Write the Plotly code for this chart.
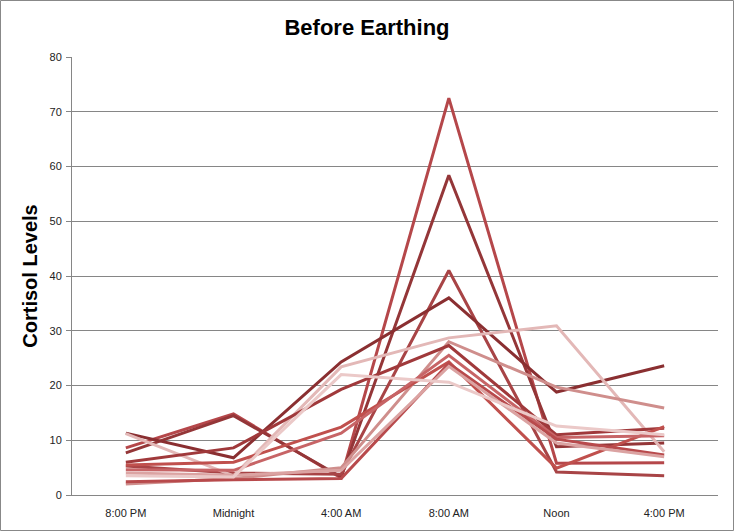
import plotly.graph_objects as go

categories = ["8:00 PM", "Midnight", "4:00 AM", "8:00 AM", "Noon", "4:00 PM"]

s1 = [8.6, 14.8, 3.1, 72.5, 5.8, 5.9]
s2 = [7.7, 14.5, 3.3, 58.4, 8.8, 9.5]
s3 = [5.3, 4.0, 3.8, 41.0, 4.2, 3.5]
s4 = [11.3, 6.8, 24.3, 36.0, 18.8, 23.6]
s5 = [11.2, 3.5, 23.4, 28.7, 30.9, 7.9]
s6 = [2.0, 3.0, 5.0, 28.0, 19.7, 15.9]
s7 = [6.0, 8.6, 19.3, 27.3, 11.0, 12.2]
s8 = [5.5, 6.0, 12.4, 24.3, 4.9, 12.5]
s9 = [4.6, 4.5, 11.3, 25.5, 10.5, 10.8]
s10 = [2.4, 2.8, 3.0, 24.0, 10.2, 7.3]
s11 = [4.0, 3.6, 4.5, 23.5, 9.5, 7.0]
s12 = [3.5, 3.3, 22.0, 20.6, 12.6, 11.0]

series = [s1, s2, s3, s4, s5, s6, s7, s8, s9, s10, s11, s12]
colors = ["#b5474a", "#943638", "#a84446", "#8a2f31", "#e3b8b7", "#cf8e8c",
          "#a0393b", "#c0504d", "#c76466", "#b84a4c", "#dba3a2", "#ebc9c8"]

fig = go.Figure()
for vals, col in zip(series, colors):
    fig.add_trace(go.Scatter(x=categories, y=vals, mode="lines",
                             line=dict(color=col, width=3), showlegend=False))

fig.update_layout(
    width=734, height=531,
    margin=dict(l=72, r=16, t=57, b=36, autoexpand=False),
    paper_bgcolor="white", plot_bgcolor="white",
    title=dict(text="<b>Before Earthing</b>", x=0.5, xanchor="center",
               y=1 - 27 / 531, yanchor="middle",
               font=dict(family="Liberation Sans", size=22, color="black")),
    font=dict(family="Liberation Sans", size=11, color="#222"),
    xaxis=dict(showline=True, linecolor="#868686", linewidth=1, showgrid=False,
               range=[-0.5, 5.5], automargin=False, ticklabelstandoff=8,
               ticks="", tickfont=dict(size=11, color="#222")),
    yaxis=dict(range=[0, 80], dtick=10, showgrid=True, gridcolor="#868686",
               gridwidth=1, showline=True, linecolor="#868686", linewidth=1,
               ticks="outside", ticklen=5, tickcolor="#868686", zeroline=False,
               automargin=False, ticklabelstandoff=2,
               tickfont=dict(size=11, color="#222"),
               title=dict(text="<b>Cortisol Levels</b>", standoff=6,
                          font=dict(family="Liberation Sans", size=20, color="black"))),
    shapes=[dict(type="rect", xref="paper", yref="paper",
                 x0=(0.5 - 72) / 646, x1=(733.5 - 72) / 646,
                 y0=(495 - 530.5) / 438, y1=(495 - 0.5) / 438,
                 line=dict(color="#888888", width=1), fillcolor="rgba(0,0,0,0)",
                 layer="below")],
)

fig.write_html("out.html")
